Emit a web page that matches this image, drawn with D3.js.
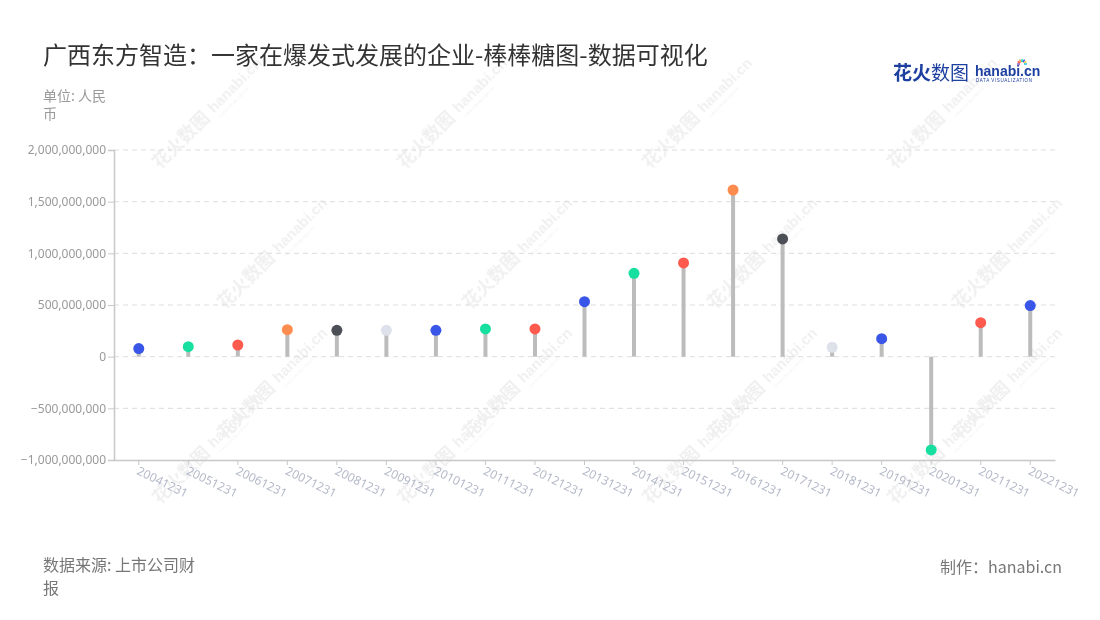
<!DOCTYPE html>
<html><head><meta charset="utf-8">
<script src="https://cdn.jsdelivr.net/npm/d3@7"></script>
<style>
body{margin:0;background:#fff;}
svg{font-family:"Noto Sans CJK SC","Noto Sans",sans-serif;}
</style></head>
<body><svg id="c" width="1100" height="620"></svg>
<script>
const categories = ["20041231","20051231","20061231","20071231","20081231","20091231","20101231","20111231","20121231","20131231","20141231","20151231","20161231","20171231","20181231","20191231","20201231","20211231","20221231"];
const values = [78e6,97e6,113e6,261e6,255e6,255e6,255e6,268e6,268e6,532e6,807e6,907e6,1613e6,1139e6,91e6,174e6,-903e6,329e6,494e6];
const dotColors = ["#3a56e8","#17df9f","#ff5a4e","#ff8c4f","#4d4f57","#dde1ea","#3a56e8","#17df9f","#ff5a4e","#3a56e8","#17df9f","#ff5a4e","#ff8c4f","#4d4f57","#dde1ea","#3a56e8","#17df9f","#ff5a4e","#3a56e8"];
const yTicks = [-1e9,-5e8,0,5e8,1e9,1.5e9,2e9];

const svg = d3.select("#c");
const L=114,R=1055,T=150,B=460;

// watermark
const wm = svg.append("g").attr("opacity",0.06).attr("fill","#000");
const wmPos = [[160,170],[405,170],[650,170],[895,170],[225,310],[470,310],[715,310],[960,310],[160,505],[405,505],[650,505],[895,505],[225,440],[470,440],[715,440],[960,440]];
wmPos.forEach(([x,y])=>{
  const g = wm.append("g").attr("transform",`translate(${x},${y}) rotate(-45)`);
  g.append("text").attr("x",0).attr("y",0).attr("font-size",18).attr("font-weight","bold").text("花火数图");
  g.append("text").attr("x",78).attr("y",-2).attr("font-size",15).attr("font-weight","bold").attr("font-family","Arial").text("hanabi.cn");
  g.append("text").attr("x",80).attr("y",6).attr("font-size",4).attr("font-family","Arial").text("DATA VISUALIZATION");
});

const x = d3.scaleBand().domain(categories).range([L,R]);
const y = d3.scaleLinear().domain([-1e9,2e9]).range([B,T]);

// grid
svg.append("g").selectAll("line").data(yTicks.filter(d=>d>-1e9)).join("line")
  .attr("x1",L).attr("x2",R).attr("y1",d=>y(d)).attr("y2",d=>y(d))
  .attr("stroke","#ddd").attr("stroke-dasharray","5,4");

// y axis
const ya = svg.append("g").attr("transform",`translate(${L},0)`)
  .call(d3.axisLeft(y).tickValues(yTicks).tickFormat(d3.format(",")).tickSize(6).tickPadding(2));
ya.select(".domain").attr("stroke","#c8c8c8").attr("stroke-width",1.5);
ya.selectAll(".tick line").attr("stroke","#c8c8c8");
ya.selectAll("text").attr("fill","#999").attr("font-size",12).attr("font-family","'Noto Sans',sans-serif");

// x axis
const xa = svg.append("g").attr("transform",`translate(0,${B})`)
  .call(d3.axisBottom(x).tickSize(5).tickSizeOuter(0));
xa.select(".domain").attr("stroke","#c8c8c8").attr("stroke-width",1.5);
xa.selectAll(".tick line").attr("stroke","#c8c8c8");
xa.selectAll("text").attr("fill","#b4b9c8").attr("font-size",12).attr("font-family","'Noto Sans',sans-serif")
  .attr("text-anchor","start").attr("transform","translate(-1,10) rotate(26)").attr("dy","0.35em").attr("y",0).attr("x",0);

// stems
const cx = d=>x(d)+x.bandwidth()/2;
svg.append("g").selectAll("line").data(categories).join("line")
  .attr("x1",cx).attr("x2",cx).attr("y1",y(0)).attr("y2",(d,i)=>y(values[i]))
  .attr("stroke","#bcbcbc").attr("stroke-width",4);
svg.append("g").selectAll("circle").data(categories).join("circle")
  .attr("cx",cx).attr("cy",(d,i)=>y(values[i])).attr("r",5.5)
  .attr("fill",(d,i)=>dotColors[i]);

// titles
svg.append("text").attr("x",43).attr("y",64).attr("font-size",24).attr("fill","#333").text("广西东方智造：一家在爆发式发展的企业-棒棒糖图-数据可视化");
svg.append("text").attr("x",43).attr("y",101).attr("font-size",14).attr("fill","#999").text("单位: 人民");
svg.append("text").attr("x",43).attr("y",119).attr("font-size",14).attr("fill","#999").text("币");
svg.append("text").attr("x",43).attr("y",571).attr("font-size",16).attr("fill","#777").text("数据来源: 上市公司财");
svg.append("text").attr("x",43).attr("y",594).attr("font-size",16).attr("fill","#777").text("报");
svg.append("text").attr("x",1062).attr("y",573).attr("font-size",16).attr("fill","#777").attr("text-anchor","end").text("制作：hanabi.cn");

// logo
const lg = svg.append("g");
lg.append("text").attr("x",893).attr("y",80).attr("font-size",19).attr("font-weight","bold").attr("fill","#1d3fa0").text("花火");
lg.append("text").attr("x",931).attr("y",80).attr("font-size",19).attr("fill","#1d3fa0").text("数图");
lg.append("text").attr("x",975).attr("y",76).attr("font-size",14).attr("font-weight","bold").attr("font-family","Arial").attr("fill","#1d3fa0").text("hanabi.cn");
lg.append("text").attr("x",976).attr("y",82).attr("font-size",4.5).attr("font-family","Arial").attr("fill","#1d3fa0").attr("letter-spacing",0.6).text("DATA VISUALIZATION");
const sp = [["#ff5a4e",-60],["#ff8c4f",-30],["#17df9f",0],["#3a56e8",30],["#f5c542",60],["#9b59b6",-90],["#17c9df",90]];
sp.forEach(([c,a])=>{
  const r=a*Math.PI/180;
  lg.append("line").attr("x1",1022+Math.sin(r)*2).attr("y1",64-Math.cos(r)*2).attr("x2",1022+Math.sin(r)*5).attr("y2",64-Math.cos(r)*5).attr("stroke",c).attr("stroke-width",1.5);
});
</script></body></html>
